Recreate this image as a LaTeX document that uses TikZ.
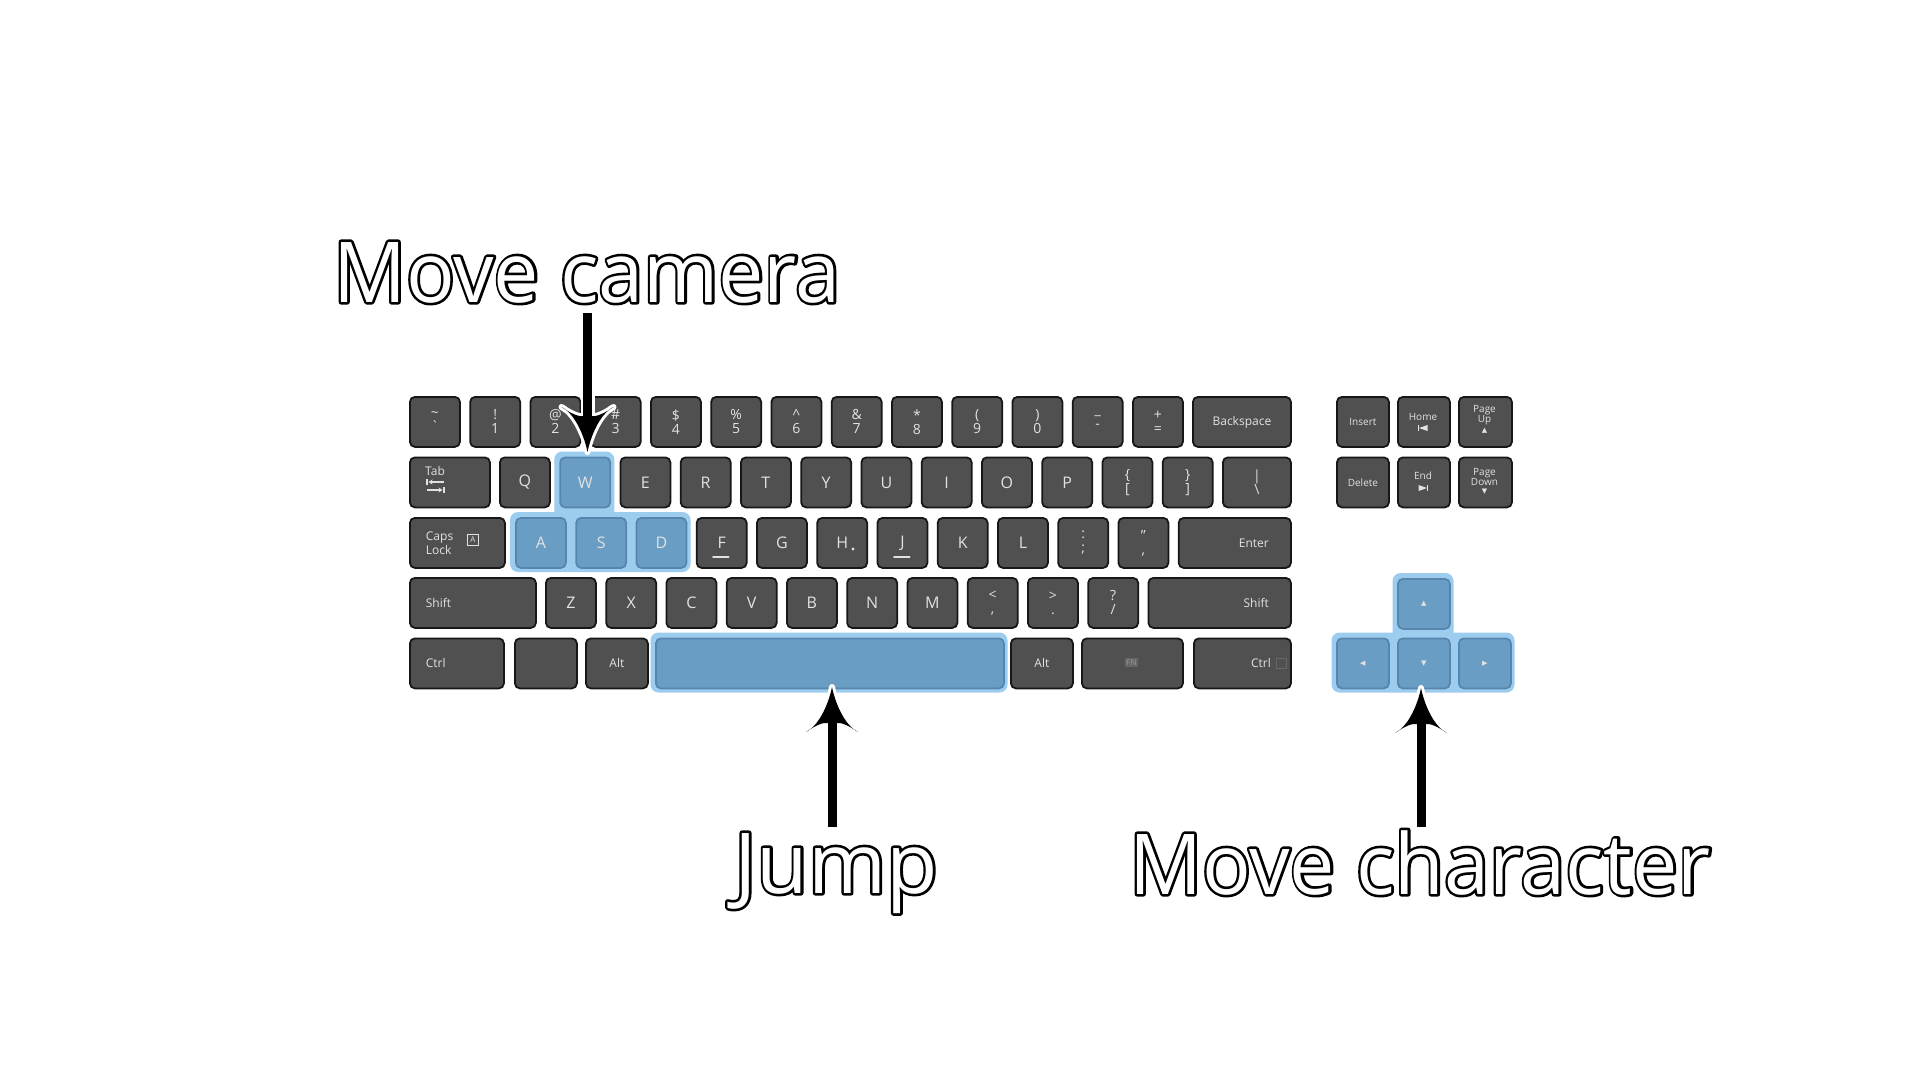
\documentclass[tikz,border=0pt]{standalone}
\usepackage{fontspec}
\usepackage{graphicx}
\setmainfont{Open Sans}
\newfontfamily\symfont{DejaVu Sans}
\usetikzlibrary{arrows.meta}

\definecolor{keyface}{HTML}{505050}
\definecolor{keyedge}{HTML}{171717}
\definecolor{keytext}{HTML}{E2E2E2}
\definecolor{blueface}{HTML}{6A9DC3}
\definecolor{blueedge}{HTML}{5686AD}
\definecolor{glow}{HTML}{9DCDEE}
\definecolor{fnbox}{HTML}{666666}
\definecolor{fntext}{HTML}{858585}

\newcommand\klf{\fontsize{16}{18}\selectfont}
\newcommand\ksf{\fontsize{14}{14}\selectfont}
\newcommand\kwf{\fontsize{12}{14}\selectfont}
\newcommand\ktf{\fontsize{10}{10.5}\selectfont}
\newcommand\bigf{\fontsize{84}{90}\selectfont}
\newcommand\trif{\symfont\fontsize{7}{7}\selectfont}

% outlined text: black outer stroke, white fill on top
\newcommand\outl[1]{\rlap{\special{pdf:literal direct 1 j 1 Tr 5.2 w 0 0 0 RG}#1\special{pdf:literal direct 0 Tr 0 j 0 0 0 RG}}\special{pdf:literal direct 1 1 1 rg}#1\special{pdf:literal direct 0 0 0 rg}}

\newcommand\K[6][]{\node[key,minimum width=#5,anchor=north west,#1] (#2) at (#3,#4) {#6};}

\tikzset{
  headbg/.pic={\filldraw[white, line width=6pt, line join=round]
    (0,0) .. controls (-3,15) and (-12,38) .. (-26,45) .. controls (-16,38) and (-8,35) .. (-4.5,36)
    -- (4.5,36) .. controls (8,35) and (16,38) .. (26,45) .. controls (12,38) and (3,15) .. (0,0) -- cycle;},
  head/.pic={\fill[black]
    (0,0) .. controls (-3,15) and (-12,38) .. (-26,45) .. controls (-16,38) and (-8,35) .. (-4.5,36)
    -- (4.5,36) .. controls (8,35) and (16,38) .. (26,45) .. controls (12,38) and (3,15) .. (0,0) -- cycle;},
}

\begin{document}
\begin{tikzpicture}[x=1pt,y=-1pt,
  key/.style={draw=keyedge, fill=keyface, line width=1.8pt, rounded corners=5pt,
    minimum height=50pt, inner sep=0pt, text=keytext, font=\klf, align=center},
  bkey/.style={key, draw=blueedge, fill=blueface},
  sym/.style={font=\ksf},
  wrd/.style={font=\kwf},
  tny/.style={font=\ktf},
  lbl/.style={text=keytext, inner sep=0pt},
  glowfill/.style={fill=glow, rounded corners=8pt},
  big/.style={inner sep=0pt, font=\bigf},
  shaftbg/.style={white, line width=14pt},
  shaft/.style={black, line width=9pt},
]
\useasboundingbox (0,0) rectangle (1920,1080);
\fill[white] (0,0) rectangle (1920,1080);

% highlight glows
\fill[glowfill] (554.25,451.5) rectangle (614.25,522);
\fill[glowfill] (510,512) rectangle (690.5,572);
\fill[glowfill] (650.5,632.5) rectangle (1007.5,692.5);
\fill[glowfill] (1392.5,573) rectangle (1453.5,640);
\fill[glowfill] (1331.5,632.5) rectangle (1514.5,692.5);

% row 1
\K[sym]{ktil}{409}{396}{50}{\textasciitilde\\\textasciigrave}
\K[sym]{k1}{469.25}{396}{50}{!\\1}
\K[sym]{k2}{529.5}{396}{50}{@\\2}
\K[sym]{k3}{589.75}{396}{50}{\#\\3}
\K[sym]{k4}{650}{396}{50}{\$\\4}
\K[sym]{k5}{710.25}{396}{50}{\%\\5}
\K[sym]{k6}{770.5}{396}{50}{\textasciicircum\\6}
\K[sym]{k7}{830.75}{396}{50}{\&\\7}
\K[sym]{k8}{891}{396}{50}{*\\8}
\K[sym]{k9}{951.25}{396}{50}{(\\9}
\K[sym]{k0}{1011.5}{396}{50}{)\\0}
\K[sym]{kmin}{1071.75}{396}{50}{\_\\-}
\K[sym]{keq}{1132}{396}{50}{+\\=}
\K[wrd]{kback}{1192}{396}{98}{Backspace}

% row 2
\K{ktab}{409}{456.5}{80}{}
\K{kq}{499}{456.5}{50}{Q}
\K[bkey]{kw}{559.25}{456.5}{50}{W}
\K{ke}{619.5}{456.5}{50}{E}
\K{kr}{679.75}{456.5}{50}{R}
\K{kt}{740}{456.5}{50}{T}
\K{ky}{800.25}{456.5}{50}{Y}
\K{ku}{860.5}{456.5}{50}{U}
\K{ki}{920.75}{456.5}{50}{I}
\K{ko}{981}{456.5}{50}{O}
\K{kp}{1041.25}{456.5}{50}{P}
\K[sym]{klb}{1101.5}{456.5}{50}{\{\\{[}}
\K[sym]{krb}{1161.75}{456.5}{50}{\}\\{]}}
\K[sym]{kbs}{1222}{456.5}{68}{|\\\textbackslash}

% row 3
\K[wrd,align=left,text width=63]{kcaps}{409}{517}{95}{Caps\\Lock}
\K[bkey]{ka}{515}{517}{50}{A}
\K[bkey]{ks}{575.25}{517}{50}{S}
\K[bkey]{kd}{635.5}{517}{50}{D}
\K{kf}{695.75}{517}{50}{F}
\K{kg}{756}{517}{50}{G}
\K{kh}{816.25}{517}{50}{H}
\K{kj}{876.5}{517}{50}{J}
\K{kk}{936.75}{517}{50}{K}
\K{kl}{997}{517}{50}{L}
\K[sym]{ksc}{1057.25}{517}{50}{:\\;}
\K[sym]{kqu}{1117.5}{517}{50}{"\\,}
\K[wrd,align=right,text width=68]{kenter}{1177.75}{517}{112.25}{Enter}

% row 4
\K[wrd,align=left,text width=94]{kshl}{409}{577}{126}{Shift}
\K{kz}{545}{577}{50}{Z}
\K{kx}{605.25}{577}{50}{X}
\K{kc}{665.5}{577}{50}{C}
\K{kv}{725.75}{577}{50}{V}
\K{kb}{786}{577}{50}{B}
\K{kn}{846.25}{577}{50}{N}
\K{km}{906.5}{577}{50}{M}
\K[sym]{klt}{966.75}{577}{50}{<\\,}
\K[sym]{kgt}{1027}{577}{50}{>\\.}
\K[sym]{kqm}{1087.25}{577}{50}{?\\/}
\K[wrd,align=right,text width=98.5]{kshr}{1147.5}{577}{142.5}{Shift}

% row 5
\K[wrd,align=left,text width=62]{kctl}{409}{637.5}{94}{Ctrl}
\K{kwin}{514}{637.5}{62}{}
\K[wrd]{kaltl}{585}{637.5}{62}{Alt}
\K[bkey]{kspace}{655}{637.5}{348}{}
\K[wrd]{kaltr}{1010}{637.5}{62}{Alt}
\K{kfn}{1081}{637.5}{101}{}
\K[wrd,align=right,text width=57]{kctr}{1193}{637.5}{97}{Ctrl}

% navigation cluster
\K[tny]{kins}{1336}{396}{52}{Insert}
\K{khome}{1397}{396}{52}{}
\K{kpgup}{1458}{396}{53}{}
\K[tny]{kdel}{1336}{456.5}{52}{Delete}
\K{kend}{1397}{456.5}{52}{}
\K{kpgdn}{1458}{456.5}{53}{}

% arrow keys
\K[bkey,font=\trif]{kup}{1397}{578}{52}{▲}
\K[bkey,font=\trif]{kleft}{1336}{637.5}{52}{◀}
\K[bkey,font=\trif]{kdown}{1397}{637.5}{52}{▼}
\K[bkey,font=\trif]{kright}{1458}{637.5}{52}{▶}

% key details
\node[lbl,wrd,anchor=west] (tabtxt) at (425,471) {Tab};
\draw[keytext, line width=1.2pt] (427,479) -- (427,485);
\draw[keytext, line width=1.2pt, -{Stealth[length=4pt,width=5pt]}] (444,482) -- (428.5,482);
\draw[keytext, line width=1.2pt, -{Stealth[length=4pt,width=5pt]}] (427,490) -- (442.5,490);
\draw[keytext, line width=1.2pt] (444,487) -- (444,493);
\node[draw=keytext, line width=0.8pt, inner sep=0pt, minimum size=11pt, text=keytext,
  font=\fontsize{8}{8}\selectfont] (capsa) at (473,540) {A};
\draw[keytext, line width=2pt, line cap=round] (713,557) -- (728.5,557);
\draw[keytext, line width=2pt, line cap=round] (894,557) -- (909.5,557);
\fill[keytext] (853,549) circle (1.6);
\node[fill=fnbox, text=fntext, inner sep=1.5pt, font=\fontsize{8}{8}\selectfont\bfseries] (fnlbl) at (1131.5,662.5) {FN};
\node[draw=fnbox, fill=keyface, line width=0.8pt, minimum size=10pt, inner sep=0pt] (ctrbox) at (1281.5,663) {};

\node[lbl,tny] (hometxt) at (1423,417) {Home};
\draw[keytext, line width=1.2pt] (1418.5,425) -- (1418.5,431);
\fill[keytext] (1427.5,425) -- (1427.5,431) -- (1419,428) -- cycle;
\node[lbl,tny] (endtxt) at (1423,476) {End};
\fill[keytext] (1418.5,485) -- (1418.5,491) -- (1427,488) -- cycle;
\draw[keytext, line width=1.2pt] (1427.5,485) -- (1427.5,491);
\node[lbl,tny,align=center] (pguptxt) at (1484.5,415) {Page\\Up};
\node[lbl,font=\trif] (pgupsym) at (1484.5,431) {▲};
\node[lbl,tny,align=center] (pgdntxt) at (1484.5,477) {Page\\Down};
\node[lbl,font=\trif] (pgdnsym) at (1484.5,492) {▼};

% arrows
\coordinate (camA) at (587.5,313);
\coordinate (camB) at (587.5,452);
\coordinate (jmpA) at (832,827);
\coordinate (jmpB) at (832,687);
\coordinate (chrA) at (1421,827);
\coordinate (chrB) at (1421,688);

\draw[shaftbg] (camA) -- ([yshift=34pt]camB);
\pic[yscale=-1] at (camB) {headbg};
\draw[shaft] (camA) -- ([yshift=30pt]camB);
\pic[yscale=-1] at (camB) {head};

\draw[shaftbg] (jmpA) -- ([yshift=-34pt]jmpB);
\pic at (jmpB) {headbg};
\draw[shaft] (jmpA) -- ([yshift=-30pt]jmpB);
\pic at (jmpB) {head};

\draw[shaftbg] (chrA) -- ([yshift=-34pt]chrB);
\pic at (chrB) {headbg};
\draw[shaft] (chrA) -- ([yshift=-30pt]chrB);
\pic at (chrB) {head};

% labels
\node[big, anchor=base west] (lcam) at (333,302) {\scalebox{0.962}[1]{\outl{Move camera}}};
\node[big, anchor=base west] (ljump) at (734,893) {\outl{Jump}};
\node[big, anchor=base west] (lchar) at (1129,894) {\scalebox{0.962}[1]{\outl{Move character}}};
\end{tikzpicture}
\end{document}
